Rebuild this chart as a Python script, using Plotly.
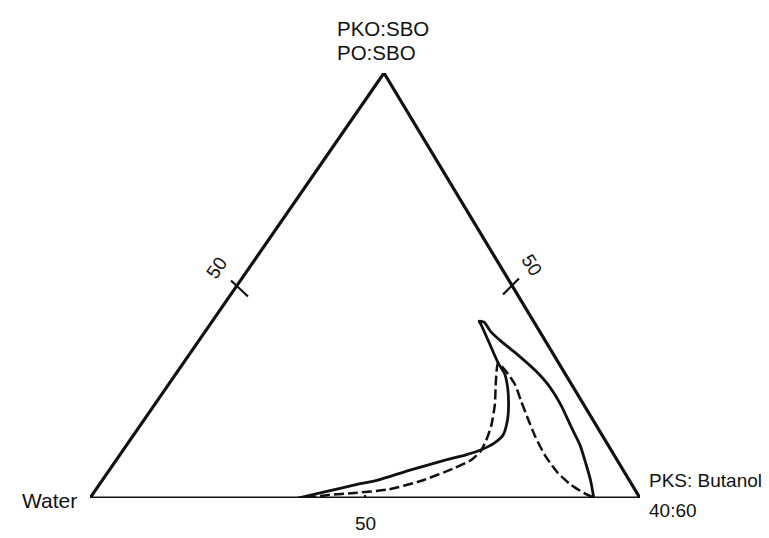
import plotly.graph_objects as go

# Ternary compositions in % : Water (left), PKO:SBO / PO:SBO (top), PKS:Butanol 40:60 (right)
solid_water = [62.2, 56.0, 50.4, 45.7, 38.6, 31.3, 27.1, 23.7, 20.5, 18.0, 15.7, 13.7, 12.0, 11.0,
               11.0, 10.4, 9.9, 9.9, 9.1, 8.9, 8.1, 6.5, 5.1, 4.3, 4.2, 4.7, 5.1, 6.1, 7.1, 8.4]
solid_oil = [0.0, 1.6, 3.1, 4.2, 6.6, 8.9, 10.1, 11.3, 12.9, 14.8, 18.1, 21.9, 25.9, 29.2,
             31.8, 36.7, 40.9, 41.6, 41.4, 39.1, 36.9, 33.6, 30.1, 26.6, 21.9, 16.9, 12.5, 8.0, 4.0, 0.0]
solid_surf = [37.8, 42.4, 46.5, 50.1, 54.8, 59.8, 62.8, 65.0, 66.6, 67.2, 66.2, 64.4, 62.1, 59.8,
              57.2, 52.9, 49.2, 48.5, 49.5, 52.0, 55.0, 59.8, 64.8, 69.1, 73.9, 78.4, 82.4, 85.9, 88.9, 91.6]

dashed_water = [60.7, 56.4, 51.3, 44.9, 38.0, 30.4, 26.6, 23.8, 21.6, 19.2, 16.2, 13.4,
                11.0, 10.5, 10.3, 11.0, 11.7, 12.3, 12.6, 12.2, 11.1, 9.4, 8.2]
dashed_oil = [0.0, 0.7, 1.2, 2.0, 4.0, 7.1, 8.9, 11.1, 13.6, 16.9, 21.9, 27.5,
              31.8, 29.9, 26.6, 22.8, 18.6, 14.6, 10.1, 5.9, 3.1, 0.9, 0.0]
dashed_surf = [39.3, 42.9, 47.5, 53.1, 58.0, 62.6, 64.5, 65.2, 64.7, 63.9, 61.9, 59.1,
               57.2, 59.7, 63.1, 66.2, 69.7, 73.1, 77.3, 81.9, 85.8, 89.7, 91.8]

vertex_water = [100, 0, 0, 100]
vertex_oil = [0, 100, 0, 0]
vertex_surf = [0, 0, 100, 0]

tick_value = 50
tick_label = "50"

TOP_X = 0.5345  # horizontal position of the apex as a fraction of the base (drawing is skewed)


def to_xy(water, oil, surf):
    xs, ys = [], []
    for w, o, s in zip(water, oil, surf):
        t = w + o + s
        xs.append((s + TOP_X * o) / t)
        ys.append(o / t)
    return xs, ys


INK = "#111111"
fig = go.Figure()

tx, ty = to_xy(vertex_water, vertex_oil, vertex_surf)
fig.add_trace(go.Scatter(x=tx, y=ty, mode="lines", line=dict(color=INK, width=3.2),
                         hoverinfo="skip", showlegend=False))

sx, sy = to_xy(solid_water, solid_oil, solid_surf)
fig.add_trace(go.Scatter(x=sx, y=sy, mode="lines",
                         line=dict(color=INK, width=2.8, shape="spline", smoothing=0.6),
                         showlegend=False))

dx, dy = to_xy(dashed_water, dashed_oil, dashed_surf)
fig.add_trace(go.Scatter(x=dx, y=dy, mode="lines",
                         line=dict(color=INK, width=2.5, dash="10px,4px", shape="spline", smoothing=0.6),
                         showlegend=False))

# 50 ticks on each side
tv = tick_value
(lx,), (ly,) = to_xy([100 - tv], [tv], [0])
(rx,), (ry,) = to_xy([0], [tv], [100 - tv])
(bx,), (by,) = to_xy([100 - tv], [0], [tv])

shapes = []
for (ax_, ay_, x0, y0, x1, y1) in [(lx, ly, -6, 5, 11, -11),
                                   (rx, ry, 7, 7, -9, -9),
                                   (bx, by, 0, 3, 0, -14)]:
    shapes.append(dict(type="line", xref="x", yref="y", xsizemode="pixel", ysizemode="pixel",
                       xanchor=ax_, yanchor=ay_, x0=x0, y0=y0, x1=x1, y1=y1,
                       line=dict(color=INK, width=2.2)))

FAM = "Liberation Sans, Arial, sans-serif"
font_top = dict(family=FAM, size=20.5, color=INK)
font_water = dict(family=FAM, size=21, color=INK)
font_right = dict(family=FAM, size=19, color=INK)
font_tick = dict(family=FAM, size=19, color=INK)

annotations = [
    dict(x=lx, y=ly, text=tick_label, textangle=-55, xshift=-20, yshift=18, font=font_tick),
    dict(x=rx, y=ry, text=tick_label, textangle=58, xshift=20, yshift=20, font=font_tick),
    dict(x=bx, y=by, text=tick_label, xshift=0, yshift=-25, font=font_tick),
    dict(x=tx[1], y=ty[1], text="PKO:SBO", xanchor="left", xshift=-49, yshift=45, font=font_top),
    dict(x=tx[1], y=ty[1], text="PO:SBO", xanchor="left", xshift=-49, yshift=21, font=font_top),
    dict(x=tx[0], y=ty[0], text="Water", xanchor="right", xshift=-11, yshift=-2, font=font_water),
    dict(x=tx[2], y=ty[2], text="PKS: Butanol", xanchor="left", xshift=7, yshift=18, font=font_right),
    dict(x=tx[2], y=ty[2], text="40:60", xanchor="left", xshift=7, yshift=-12, font=font_right),
]
for a in annotations:
    a.update(xref="x", yref="y", showarrow=False)

fig.update_layout(
    width=769, height=538,
    margin=dict(l=82, r=137, t=65, b=48),
    paper_bgcolor="white", plot_bgcolor="white",
    xaxis=dict(range=[0, 1], visible=False, fixedrange=True),
    yaxis=dict(range=[0, 1], visible=False, fixedrange=True),
    shapes=shapes, annotations=annotations,
)
for tr in fig.data:
    tr.cliponaxis = False

fig.write_html("out.html")
